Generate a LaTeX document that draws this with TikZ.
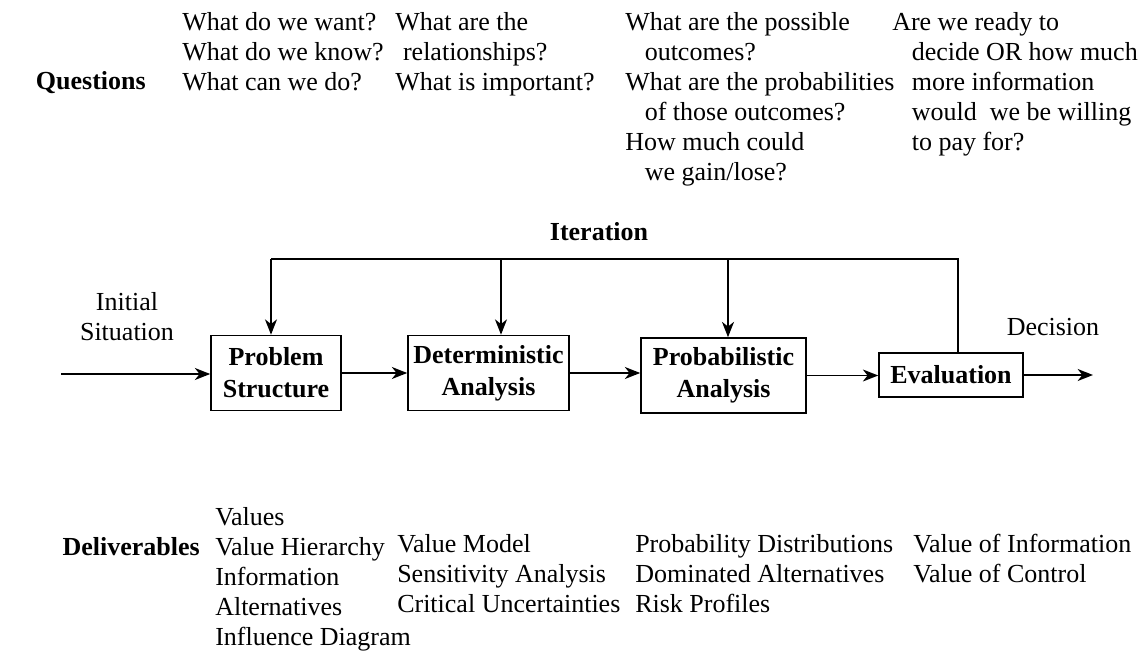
\documentclass[tikz,border=0pt]{standalone}
\usepackage{fontspec}
\setmainfont{Liberation Serif}
\usetikzlibrary{arrows.meta}
\begin{document}
\begin{tikzpicture}[x=0.75pt,y=-0.75pt,
  txt/.style={font=\fontsize{19.5}{22.5}\selectfont, inner sep=0pt, align=left},
  lbl/.style={font=\fontsize{19.5}{22.5}\selectfont\bfseries, inner sep=0pt},
  box/.style={draw, line width=1.2pt, font=\fontsize{19.5}{24}\selectfont\bfseries, align=center, inner sep=0pt},
  ln/.style={line width=1.2pt},
  arr/.style={line width=1.2pt, -{Stealth[length=11.5pt,width=9pt,inset=3.5pt]}}]
\useasboundingbox (0,0) rectangle (1143,656);

% questions
\node[lbl, anchor=base east] (qs) at (146,89.5) {Questions};
\node[txt, anchor=north west] (q1) at (182,12) {What do we want?\\What do we know?\\What can we do?};
\node[txt, anchor=north west] (q2) at (395,12) {What are the\\\hspace*{0.3em}relationships?\\What is important?};
\node[txt, anchor=north west] (q3) at (625,12) {What are the possible\\\hspace*{0.75em}outcomes?\\What are the probabilities\\\hspace*{0.75em}of those outcomes?\\How much could\\\hspace*{0.75em}we gain/lose?};
\node[txt, anchor=north west] (q4) at (892,12) {Are we ready to\\\hspace*{0.75em}decide OR how much\\\hspace*{0.75em}more information\\\hspace*{0.75em}would\ \ we be willing\\\hspace*{0.75em}to pay for?};

% boxes
\node[box, minimum width=97.5pt, minimum height=56.25pt] (ps) at (276,373) {Problem\\Structure};
\node[box, minimum width=120.75pt, minimum height=56.25pt] (da) at (488.5,373) {Deterministic\\Analysis};
\node[box, minimum width=123.75pt, minimum height=56.25pt] (pa) at (723.5,375.5) {Probabilistic\\Analysis};
\node[box, minimum width=108pt, minimum height=33pt] (ev) at (951,375) {Evaluation};

% labels
\node[lbl, anchor=base] (iter) at (599,241) {Iteration};
\node[txt, align=center] (init) at (127,317) {Initial\\Situation};
\node[txt, anchor=base] (dec) at (1053,335) {Decision};

% connectors
\coordinate (in) at (61,374);
\coordinate (out) at (1093,374);
\coordinate (t1) at (271,259);
\coordinate (t2) at (501,259);
\coordinate (t3) at (728,259);
\coordinate (t4) at (958,259);
\draw[ln] (t1) -- (t4) -- (t4 |- ev.north);
\draw[arr] (t1) -- (t1 |- ps.north);
\draw[arr] (t2) -- (t2 |- da.north);
\draw[arr] (t3) -- (t3 |- pa.north);
\draw[arr] (in) -- (in -| ps.west);
\draw[arr] (ps.east) -- (ps.east -| da.west);
\draw[arr] (da.east) -- (da.east -| pa.west);
\draw[arr] (pa.east) -- (pa.east -| ev.west);
\draw[arr] (ev.east) -- (ev.east -| out);

% deliverables
\node[lbl, anchor=base east] (dl) at (200,555) {Deliverables};
\node[txt, anchor=north west] (d1) at (215,507.5) {Values\\Value Hierarchy\\Information\\Alternatives\\Influence Diagram};
\node[txt, anchor=north west] (d2) at (397,534) {Value Model\\Sensitivity Analysis\\Critical Uncertainties};
\node[txt, anchor=north west] (d3) at (635,534) {Probability Distributions\\Dominated Alternatives\\Risk Profiles};
\node[txt, anchor=north west] (d4) at (913,534) {Value of Information\\Value of Control};
\end{tikzpicture}
\end{document}
